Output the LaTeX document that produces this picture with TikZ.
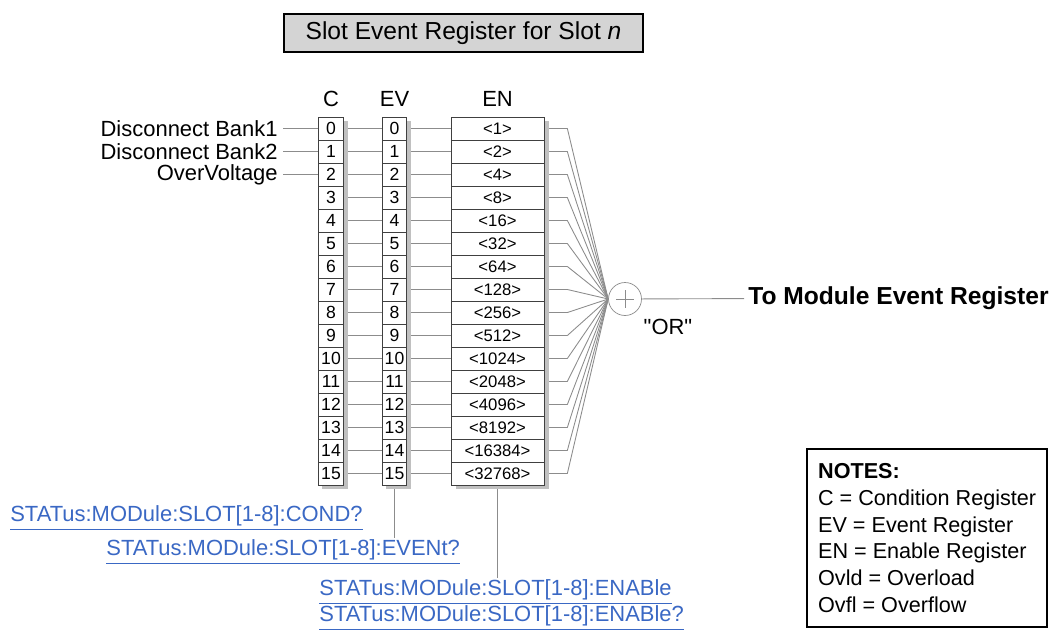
\documentclass[tikz,border=0pt]{standalone}
\usepackage{fontspec}
\setmainfont{Liberation Sans}
\usepackage{tikz}
\usetikzlibrary{
	positioning,
	calc,
	backgrounds
}
\definecolor{WireGray}{RGB}{140,140,140}
\definecolor{ShadeGray}{RGB}{192,192,192}
\definecolor{TitleGray}{RGB}{212,212,212}
\definecolor{LinkBlue}{RGB}{58,104,196}

\tikzset{
	cell/.style={
		draw=black!75,
		fill=white,
		line width=0.4pt,
		minimum height=0.46cm,
		inner sep=0pt,
		font=\fontsize{10}{12}\selectfont
	},
	wire/.style={
		draw=WireGray,
		line width=0.5pt
	},
	header/.style={
		inner sep=0.05cm,
		font=\fontsize{12.5}{15}\selectfont
	},
	sigtext/.style={
		inner sep=0.1cm,
		font=\fontsize{12.5}{15}\selectfont
	},
	link/.style={
		text=LinkBlue,
		inner sep=0.04cm,
		font=\fontsize{12.5}{15}\selectfont
	}
}

\begin{document}
\begin{tikzpicture}[x=0.02cm,y=-0.02cm]
				
				\useasboundingbox (0,0) rectangle (1060,629);
				
				\node[
				draw=black,
				fill=TitleGray,
				line width=0.9pt,
				minimum width=7.18cm,
				minimum height=0.76cm,
				font=\fontsize{14}{17}\selectfont
				] (title) at (463.5,33) {Slot Event Register for Slot \textit{n}};
				
				% register columns
				\foreach \i/\v in {0/1,1/2,2/4,3/8,4/16,5/32,6/64,7/128,8/256,9/512,10/1024,11/2048,12/4096,13/8192,14/16384,15/32768} {
					\node[cell, minimum width=0.5cm] (c\i) at (331,128.5+23*\i) {\i};
					\node[cell, minimum width=0.48cm] (e\i) at (394.5,128.5+23*\i) {\i};
					\node[cell, minimum width=1.86cm, font=\fontsize{9.5}{11}\selectfont] (n\i) at (497.5,128.5+23*\i) {<\v>};
				}
				
				\node[header, above=0.15cm of c0] (hc) {C};
				\node[header, above=0.15cm of e0] (he) {EV};
				\node[header, above=0.15cm of n0] (hn) {EN};
				
				% inputs
				\foreach \i/\t in {0/Disconnect Bank1,1/Disconnect Bank2,2/OverVoltage} {
					\node[sigtext, anchor=east] (s\i) at (283,128.5+23*\i) {\t};
					\draw[wire] (s\i) -- (c\i);
				}
				
				\node[
				draw=WireGray,
				fill=white,
				circle,
				minimum size=0.66cm,
				inner sep=0pt
				] (orgate) at (625,299) {};
				\draw[wire] ($(orgate.center)+(-9,0)$) -- ($(orgate.center)+(9,0)$);
				\draw[wire] ($(orgate.center)+(0,-9)$) -- ($(orgate.center)+(0,9)$);
				
				\node[font=\fontsize{12.5}{15}\selectfont] (ortext) at (668,327) {\textquotedbl OR\textquotedbl};
				
				\node[
				anchor=west,
				inner sep=0.08cm,
				font=\fontsize{14}{17}\selectfont\bfseries
				] (out) at (744,298) {To Module Event Register};
				\draw[wire] (orgate) -- (out);
				
				% queries
				\node[link, anchor=west] (condq) at (8,518) {\underline{STATus:MODule:SLOT[1-8]:COND?}};
				\node[link, anchor=west] (eventq) at (104,552) {\underline{STATus:MODule:SLOT[1-8]:EVENt?}};
				\node[link, anchor=west] (enab) at (317,592) {\underline{STATus:MODule:SLOT[1-8]:ENABle}};
				\node[link, anchor=west] (enabq) at (317,618) {\underline{STATus:MODule:SLOT[1-8]:ENABle?}};
				
				\node[
				draw=black,
				line width=1.3pt,
				anchor=north west,
				minimum height=3.56cm,
				inner xsep=0.22cm,
				align=left,
				font=\fontsize{12.3}{15.2}\selectfont
				] (notes) at (806,448) {\textbf{NOTES:}\\C = Condition Register\\EV = Event Register\\EN = Enable Register\\Ovld = Overload\\Ovfl = Overflow};
				
				\begin{scope}[on background layer]
					\foreach \i in {0,...,15} {
						\draw[wire] (c\i) -- (e\i);
						\draw[wire] (e\i) -- (n\i);
						\draw[wire] (n\i.east) -- ++(23,0) -- (orgate.west);
					}
					\draw[wire] (e15.south) -- (e15.south |- eventq.north);
					\draw[wire] (n15.south) -- (n15.south |- enab.north);
					\fill[ShadeGray] ($(c0.north west)+(4,4)$) rectangle ($(c15.south east)+(4,4)$);
					\fill[ShadeGray] ($(e0.north west)+(4,4)$) rectangle ($(e15.south east)+(4,4)$);
					\fill[ShadeGray] ($(n0.north west)+(5,4)$) rectangle ($(n15.south east)+(5,4)$);
				\end{scope}
				
			\end{tikzpicture}
\end{document}
